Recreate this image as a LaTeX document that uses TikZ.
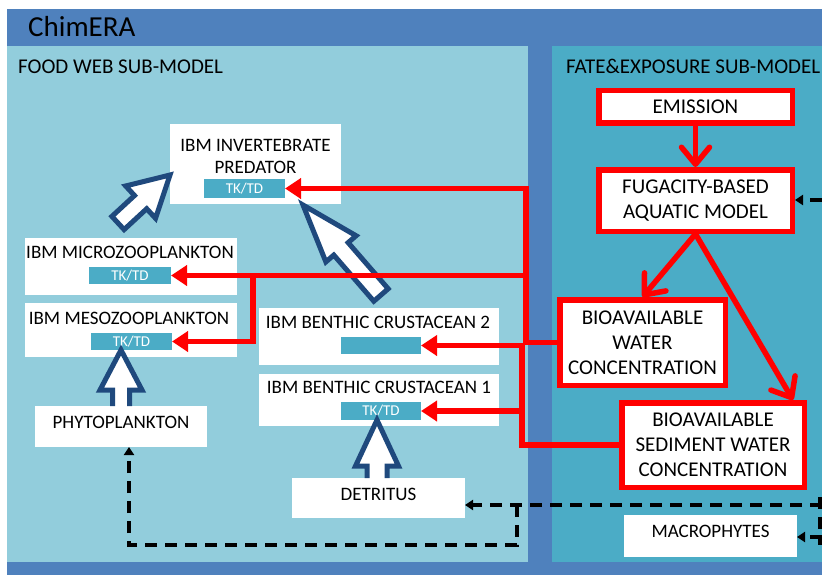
\documentclass[tikz,border=0pt]{standalone}
\usepackage{fontspec}
\setmainfont{Carlito}
\usetikzlibrary{arrows.meta,calc}
\definecolor{outerblue}{HTML}{4F81BD}
\definecolor{lightpanel}{HTML}{92CDDC}
\definecolor{tealpanel}{HTML}{4BACC6}
\definecolor{navy}{HTML}{1F497D}
\definecolor{barcol}{HTML}{4BACC6}
\newcommand\blockarr[7]{% name, tail, tip, w, h, L, close
  \coordinate (#1b) at ($(#3)!#6!(#2)$);
  \fill[white] ($(#2)!#4!90:(#3)$) -- ($(#1b)!#4!90:(#3)$) -- ($(#1b)!#5!90:(#3)$) -- (#3)
    -- ($(#1b)!#5!-90:(#3)$) -- ($(#1b)!#4!-90:(#3)$) -- ($(#2)!#4!-90:(#3)$) -- cycle;
  \draw[blockline] ($(#2)!#4!90:(#3)$) -- ($(#1b)!#4!90:(#3)$) -- ($(#1b)!#5!90:(#3)$) -- (#3)
    -- ($(#1b)!#5!-90:(#3)$) -- ($(#1b)!#4!-90:(#3)$) -- ($(#2)!#4!-90:(#3)$) #7;
}
\begin{document}
\begin{tikzpicture}[x=1pt,y=-1pt,
  wbox/.style={fill=white, draw=none, inner sep=0pt, outer sep=0pt},
  boxtext/.style={inner sep=0pt, align=center, font=\fontsize{19}{22}\selectfont},
  tkbar/.style={fill=barcol, inner sep=0pt, outer sep=0pt, text=white, font=\fontsize{15}{15}\selectfont},
  redbox/.style={fill=white, draw=red, line width=5.5pt, inner sep=0pt, align=center, font=\fontsize{21}{25}\selectfont},
  barb/.style={draw=red, line width=5.5pt, -{Straight Barb[length=17pt,width=28pt,round]}},
  redfeed/.style={draw=red, line width=5.5pt, -{Triangle[length=16pt,width=20pt]}},
  dashline/.style={draw=black, line width=3.5pt, dash pattern=on 12pt off 8pt, -{Triangle[length=8pt,width=10pt]}},
  blockline/.style={draw=navy, line width=5pt, line join=miter},
  paneltitle/.style={inner sep=0pt, anchor=base west, font=\fontsize{21}{24}\selectfont}
]
\useasboundingbox (0,0) rectangle (822,575);
\fill[outerblue] (7,9) rectangle (822,575);
\fill[lightpanel] (7,46) rectangle (528,562);
\fill[tealpanel] (552,46) rectangle (822,562);

\node[inner sep=0pt, anchor=base west, font=\fontsize{29}{32}\selectfont] (title) at (28,37) {ChimERA};
\node[paneltitle] (fwtitle) at (18,74) {FOOD WEB SUB-MODEL};
\node[paneltitle] (fetitle) at (566,74) {FATE\&EXPOSURE SUB-MODEL};

% food web boxes
\node[wbox, minimum width=171pt, minimum height=80pt] (pred) at (255.5,164) {};
\node[boxtext] (predt) at (255.5,156) {IBM INVERTEBRATE\\PREDATOR};
\node[tkbar, minimum width=81pt, minimum height=19pt] (predbar) at (244.5,188.5) {TK/TD};

\node[wbox, minimum width=212pt, minimum height=57pt] (micro) at (131,266.5) {};
\node[boxtext] (microt) at (130,252) {IBM MICROZOOPLANKTON};
\node[tkbar, minimum width=82pt, minimum height=17pt] (microbar) at (130,275.5) {TK/TD};

\node[wbox, minimum width=212pt, minimum height=54pt] (meso) at (131,330) {};
\node[boxtext] (mesot) at (129,318) {IBM MESOZOOPLANKTON};
\node[tkbar, minimum width=81pt, minimum height=17pt] (mesobar) at (131.5,341.5) {TK/TD};

\node[wbox, minimum width=172pt, minimum height=41pt] (phyto) at (121,426.5) {};
\node[boxtext] (phytot) at (121,422) {PHYTOPLANKTON};

\node[wbox, minimum width=240pt, minimum height=57pt] (ben2) at (379,336.5) {};
\node[boxtext] (ben2t) at (378,322) {IBM BENTHIC CRUSTACEAN 2};
\node[tkbar, minimum width=80pt, minimum height=17pt] (ben2bar) at (381,345.5) {};

\node[wbox, minimum width=240pt, minimum height=52pt] (ben1) at (379,400) {};
\node[boxtext] (ben1t) at (379,387) {IBM BENTHIC CRUSTACEAN 1};
\node[tkbar, minimum width=80pt, minimum height=18pt] (ben1bar) at (381,411) {TK/TD};

\node[wbox, minimum width=173pt, minimum height=40pt] (detr) at (378.5,498) {};
\node[boxtext] (detrt) at (378.5,494) {DETRITUS};

\node[wbox, minimum width=173pt, minimum height=42pt] (macro) at (710.5,536) {};
\node[boxtext] (macrot) at (710.5,531) {MACROPHYTES};

% fate & exposure boxes
\node[redbox, minimum width=193.5pt, minimum height=32.5pt] (emis) at (695.5,107) {EMISSION};
\node[redbox, minimum width=193.5pt, minimum height=61.5pt] (fug) at (695.5,200.5) {FUGACITY-BASED\\AQUATIC MODEL};
\node[redbox, minimum width=165.5pt, minimum height=85.5pt] (biow) at (642.5,342.5) {BIOAVAILABLE\\WATER\\CONCENTRATION};
\node[redbox, minimum width=182.5pt, minimum height=84.5pt] (bios) at (713,445) {BIOAVAILABLE\\SEDIMENT WATER\\CONCENTRATION};

% block arrows (feeding)
\coordinate (a1t) at ($(micro.north)+(-13,-15)$);
\coordinate (a1p) at ($(pred.west)+(0,11)$);
\blockarr{a1}{a1t}{a1p}{9pt}{22pt}{40pt}{-- cycle}
\coordinate (a2t) at ($(ben2.north)+(2,-13)$);
\coordinate (a2p) at ($(pred.south)+(47.5,1)$);
\blockarr{a2}{a2t}{a2p}{9.5pt}{20pt}{58pt}{-- cycle}
\coordinate (a3t) at (phyto.north);
\coordinate (a3p) at (phyto.north |- mesobar.south);
\blockarr{a3}{a3t}{a3p}{8.5pt}{21pt}{40pt}{}
\coordinate (a4t) at ($(detr.north)+(-1.5,0)$);
\coordinate (a4p) at (a4t |- ben1bar.south);
\blockarr{a4}{a4t}{a4p}{10pt}{21.5pt}{46pt}{}

% red connectors
\draw[barb] (emis) -- (fug);
\draw[barb] (fug.south) -- (biow.north);
\draw[barb] (fug.south) -- ($(bios.north east)+(-14,0)$);

\coordinate (wv) at (526,0);
\coordinate (mv) at (253,0);
\coordinate (sv) at (522,0);
\draw[redfeed] (biow.west) -- (biow.west -| wv) |- (predbar.east);
\draw[redfeed] (wv |- microbar.east) -- (microbar.east);
\draw[redfeed] (mv |- microbar.east) |- (mesobar.east);
\draw[redfeed] (bios.west) -- (bios.west -| sv) |- (ben2bar.east);
\draw[redfeed] (sv |- ben1bar.east) -- (ben1bar.east);

% dashed connectors
\coordinate (fr) at (822,200);
\draw[dashline] (fr) -- (fug.east |- fr);
\coordinate (dr) at (822,505);
\draw[dashline] (dr) -- (detr.east |- dr);
\coordinate (dj) at (517,505);
\coordinate (db) at (517,545);
\coordinate (dl) at (129,545);
\draw[dashline] (dj) -- (db) -- (dl) -- (dl |- phyto.south);
\coordinate (mr) at (822,537);
\draw[dashline] (mr) -- (macro.east |- mr);
\coordinate (rv1) at (820,497);
\coordinate (rv2) at (820,545);
\draw[dashline, -] (rv1) -- (rv2);
\end{tikzpicture}
\end{document}
